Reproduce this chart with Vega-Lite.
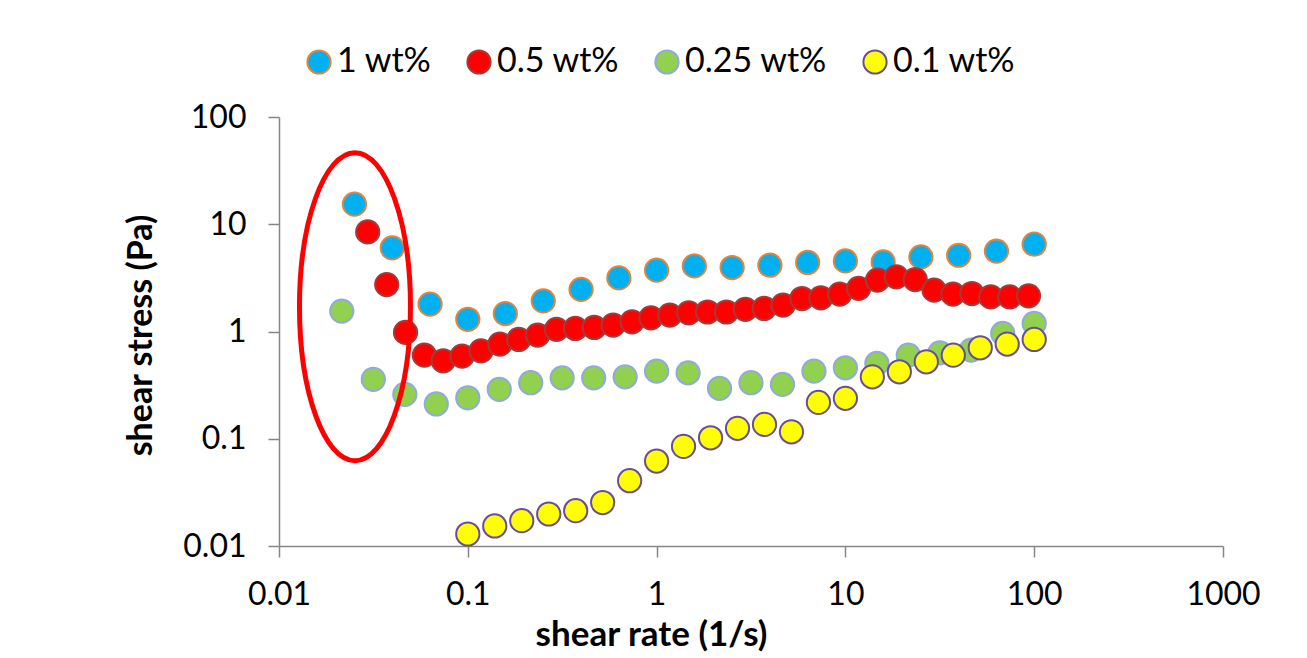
{
  "$schema": "https://vega.github.io/schema/vega-lite/v6.json",
  "width": 944,
  "height": 429,
  "autosize": "none",
  "padding": {"left": 279, "top": 117, "right": 84, "bottom": 112},
  "background": "white",
  "config": {
    "view": {"stroke": null},
    "font": "Lato",
    "axis": {
      "grid": false,
      "domainColor": "#868686",
      "domainWidth": 1.5,
      "tickColor": "#868686",
      "tickWidth": 1.5,
      "tickSize": 11,
      "labelFont": "Lato",
      "labelFontSize": 32,
      "labelColor": "#000000",
      "titleFont": "Lato",
      "titleFontWeight": "bold",
      "titleColor": "#000000"
    }
  },
  "datasets": {
    "series": [
      {"rate": 0.0251, "stress": 15.4, "series": "1 wt%"},
      {"rate": 0.0398, "stress": 6.02, "series": "1 wt%"},
      {"rate": 0.0631, "stress": 1.80, "series": "1 wt%"},
      {"rate": 0.1, "stress": 1.30, "series": "1 wt%"},
      {"rate": 0.158, "stress": 1.47, "series": "1 wt%"},
      {"rate": 0.251, "stress": 1.93, "series": "1 wt%"},
      {"rate": 0.398, "stress": 2.47, "series": "1 wt%"},
      {"rate": 0.631, "stress": 3.16, "series": "1 wt%"},
      {"rate": 1, "stress": 3.73, "series": "1 wt%"},
      {"rate": 1.585, "stress": 4.09, "series": "1 wt%"},
      {"rate": 2.512, "stress": 3.95, "series": "1 wt%"},
      {"rate": 3.981, "stress": 4.15, "series": "1 wt%"},
      {"rate": 6.31, "stress": 4.40, "series": "1 wt%"},
      {"rate": 10, "stress": 4.55, "series": "1 wt%"},
      {"rate": 15.85, "stress": 4.45, "series": "1 wt%"},
      {"rate": 25.12, "stress": 4.96, "series": "1 wt%"},
      {"rate": 39.81, "stress": 5.14, "series": "1 wt%"},
      {"rate": 63.1, "stress": 5.61, "series": "1 wt%"},
      {"rate": 100, "stress": 6.51, "series": "1 wt%"},

      {"rate": 0.0295, "stress": 8.48, "series": "0.5 wt%"},
      {"rate": 0.0372, "stress": 2.74, "series": "0.5 wt%"},
      {"rate": 0.0468, "stress": 0.98, "series": "0.5 wt%"},
      {"rate": 0.0589, "stress": 0.602, "series": "0.5 wt%"},
      {"rate": 0.0741, "stress": 0.533, "series": "0.5 wt%"},
      {"rate": 0.0933, "stress": 0.589, "series": "0.5 wt%"},
      {"rate": 0.1175, "stress": 0.66, "series": "0.5 wt%"},
      {"rate": 0.1479, "stress": 0.762, "series": "0.5 wt%"},
      {"rate": 0.1862, "stress": 0.843, "series": "0.5 wt%"},
      {"rate": 0.2344, "stress": 0.925, "series": "0.5 wt%"},
      {"rate": 0.2951, "stress": 1.045, "series": "0.5 wt%"},
      {"rate": 0.3715, "stress": 1.067, "series": "0.5 wt%"},
      {"rate": 0.4677, "stress": 1.09, "series": "0.5 wt%"},
      {"rate": 0.5888, "stress": 1.146, "series": "0.5 wt%"},
      {"rate": 0.7413, "stress": 1.23, "series": "0.5 wt%"},
      {"rate": 0.9333, "stress": 1.34, "series": "0.5 wt%"},
      {"rate": 1.175, "stress": 1.42, "series": "0.5 wt%"},
      {"rate": 1.479, "stress": 1.49, "series": "0.5 wt%"},
      {"rate": 1.862, "stress": 1.52, "series": "0.5 wt%"},
      {"rate": 2.344, "stress": 1.52, "series": "0.5 wt%"},
      {"rate": 2.951, "stress": 1.61, "series": "0.5 wt%"},
      {"rate": 3.715, "stress": 1.64, "series": "0.5 wt%"},
      {"rate": 4.677, "stress": 1.76, "series": "0.5 wt%"},
      {"rate": 5.888, "stress": 2.03, "series": "0.5 wt%"},
      {"rate": 7.413, "stress": 2.06, "series": "0.5 wt%"},
      {"rate": 9.333, "stress": 2.23, "series": "0.5 wt%"},
      {"rate": 11.75, "stress": 2.52, "series": "0.5 wt%"},
      {"rate": 14.79, "stress": 3.01, "series": "0.5 wt%"},
      {"rate": 18.62, "stress": 3.23, "series": "0.5 wt%"},
      {"rate": 23.44, "stress": 3.05, "series": "0.5 wt%"},
      {"rate": 29.51, "stress": 2.43, "series": "0.5 wt%"},
      {"rate": 37.15, "stress": 2.23, "series": "0.5 wt%"},
      {"rate": 46.77, "stress": 2.26, "series": "0.5 wt%"},
      {"rate": 58.88, "stress": 2.10, "series": "0.5 wt%"},
      {"rate": 74.13, "stress": 2.10, "series": "0.5 wt%"},
      {"rate": 93.33, "stress": 2.15, "series": "0.5 wt%"},

      {"rate": 0.0215, "stress": 1.55, "series": "0.25 wt%"},
      {"rate": 0.0316, "stress": 0.358, "series": "0.25 wt%"},
      {"rate": 0.0464, "stress": 0.259, "series": "0.25 wt%"},
      {"rate": 0.0681, "stress": 0.211, "series": "0.25 wt%"},
      {"rate": 0.1, "stress": 0.241, "series": "0.25 wt%"},
      {"rate": 0.1468, "stress": 0.289, "series": "0.25 wt%"},
      {"rate": 0.2154, "stress": 0.333, "series": "0.25 wt%"},
      {"rate": 0.3162, "stress": 0.370, "series": "0.25 wt%"},
      {"rate": 0.4642, "stress": 0.370, "series": "0.25 wt%"},
      {"rate": 0.6813, "stress": 0.378, "series": "0.25 wt%"},
      {"rate": 1, "stress": 0.427, "series": "0.25 wt%"},
      {"rate": 1.468, "stress": 0.412, "series": "0.25 wt%"},
      {"rate": 2.154, "stress": 0.295, "series": "0.25 wt%"},
      {"rate": 3.162, "stress": 0.333, "series": "0.25 wt%"},
      {"rate": 4.642, "stress": 0.321, "series": "0.25 wt%"},
      {"rate": 6.813, "stress": 0.427, "series": "0.25 wt%"},
      {"rate": 10, "stress": 0.459, "series": "0.25 wt%"},
      {"rate": 14.68, "stress": 0.504, "series": "0.25 wt%"},
      {"rate": 21.54, "stress": 0.602, "series": "0.25 wt%"},
      {"rate": 31.62, "stress": 0.633, "series": "0.25 wt%"},
      {"rate": 46.42, "stress": 0.670, "series": "0.25 wt%"},
      {"rate": 68.13, "stress": 0.959, "series": "0.25 wt%"},
      {"rate": 100, "stress": 1.19, "series": "0.25 wt%"},

      {"rate": 0.1, "stress": 0.01294, "series": "0.1 wt%"},
      {"rate": 0.1389, "stress": 0.01537, "series": "0.1 wt%"},
      {"rate": 0.1931, "stress": 0.01722, "series": "0.1 wt%"},
      {"rate": 0.2683, "stress": 0.01988, "series": "0.1 wt%"},
      {"rate": 0.3728, "stress": 0.02134, "series": "0.1 wt%"},
      {"rate": 0.5179, "stress": 0.02544, "series": "0.1 wt%"},
      {"rate": 0.7197, "stress": 0.0406, "series": "0.1 wt%"},
      {"rate": 1, "stress": 0.0620, "series": "0.1 wt%"},
      {"rate": 1.389, "stress": 0.0849, "series": "0.1 wt%"},
      {"rate": 1.931, "stress": 0.1021, "series": "0.1 wt%"},
      {"rate": 2.683, "stress": 0.125, "series": "0.1 wt%"},
      {"rate": 3.728, "stress": 0.136, "series": "0.1 wt%"},
      {"rate": 5.179, "stress": 0.116, "series": "0.1 wt%"},
      {"rate": 7.197, "stress": 0.218, "series": "0.1 wt%"},
      {"rate": 10, "stress": 0.238, "series": "0.1 wt%"},
      {"rate": 13.89, "stress": 0.378, "series": "0.1 wt%"},
      {"rate": 19.31, "stress": 0.421, "series": "0.1 wt%"},
      {"rate": 26.83, "stress": 0.522, "series": "0.1 wt%"},
      {"rate": 37.28, "stress": 0.602, "series": "0.1 wt%"},
      {"rate": 51.79, "stress": 0.705, "series": "0.1 wt%"},
      {"rate": 71.97, "stress": 0.763, "series": "0.1 wt%"},
      {"rate": 100, "stress": 0.843, "series": "0.1 wt%"}
    ],
    "ellipse": [
      {"rate": 0.02526, "stress": 1.705, "label": "highlight"}
    ]
  },
  "layer": [
    {
      "data": {"name": "series"},
      "mark": {"type": "point", "shape": "circle", "size": 540, "strokeWidth": 2, "opacity": 1, "filled": true},
      "encoding": {
        "x": {
          "field": "rate", "type": "quantitative",
          "scale": {"type": "log", "domain": [0.01, 1000], "nice": false},
          "axis": {
            "values": [0.01, 0.1, 1, 10, 100, 1000],
            "format": "~g",
            "labelPadding": 22,
            "labelFlush": false,
            "title": "shear rate (1/s)",
            "titleFontSize": 35,
            "titleAnchor": "start",
            "titleAlign": "center",
            "titleX": 372,
            "titleY": 99,
            "titleBaseline": "alphabetic"
          }
        },
        "y": {
          "field": "stress", "type": "quantitative",
          "scale": {"type": "log", "domain": [0.01, 100], "nice": false},
          "axis": {
            "values": [0.01, 0.1, 1, 10, 100],
            "format": "~g",
            "labelPadding": 22,
            "labelFlush": false,
            "title": "shear stress (Pa)",
            "titleFontSize": 34,
            "titleAlign": "center",
            "titleAngle": 270,
            "titleX": -128,
            "titleY": 218,
            "titleBaseline": "alphabetic"
          }
        },
        "fill": {
          "field": "series", "type": "nominal",
          "scale": {"domain": ["1 wt%", "0.5 wt%", "0.25 wt%", "0.1 wt%"], "range": ["#00B0F0", "#FF0000", "#92D050", "#FFFF00"]},
          "legend": {
            "title": null, "orient": "none", "direction": "horizontal",
            "legendX": 23, "legendY": -72,
            "symbolType": "circle", "symbolSize": 540, "symbolStrokeWidth": 2,
            "labelFont": "Lato", "labelFontSize": 34, "labelColor": "#000000",
            "labelOffset": 1, "columnPadding": 30, "labelLimit": 300
          }
        },
        "stroke": {
          "field": "series", "type": "nominal",
          "scale": {"domain": ["1 wt%", "0.5 wt%", "0.25 wt%", "0.1 wt%"], "range": ["#E2843C", "#A23B3A", "#8FAADC", "#6A4C9C"]},
          "legend": {
            "title": null, "orient": "none", "direction": "horizontal",
            "legendX": 23, "legendY": -72,
            "symbolType": "circle", "symbolSize": 540, "symbolStrokeWidth": 2,
            "labelFont": "Lato", "labelFontSize": 34, "labelColor": "#000000",
            "labelOffset": 1, "columnPadding": 30, "labelLimit": 300
          }
        }
      }
    },
    {
      "data": {"name": "ellipse"},
      "mark": {
        "type": "point",
        "shape": "M0,-1C0.199,-1 0.3604,-0.5523 0.3604,0C0.3604,0.5523 0.199,1 0,1C-0.199,1 -0.3604,0.5523 -0.3604,0C-0.3604,-0.5523 -0.199,-1 0,-1Z",
        "size": 94864,
        "filled": false,
        "stroke": "#FF0000",
        "strokeWidth": 5,
        "opacity": 1
      },
      "encoding": {
        "x": {"field": "rate", "type": "quantitative"},
        "y": {"field": "stress", "type": "quantitative"}
      }
    }
  ]
}
